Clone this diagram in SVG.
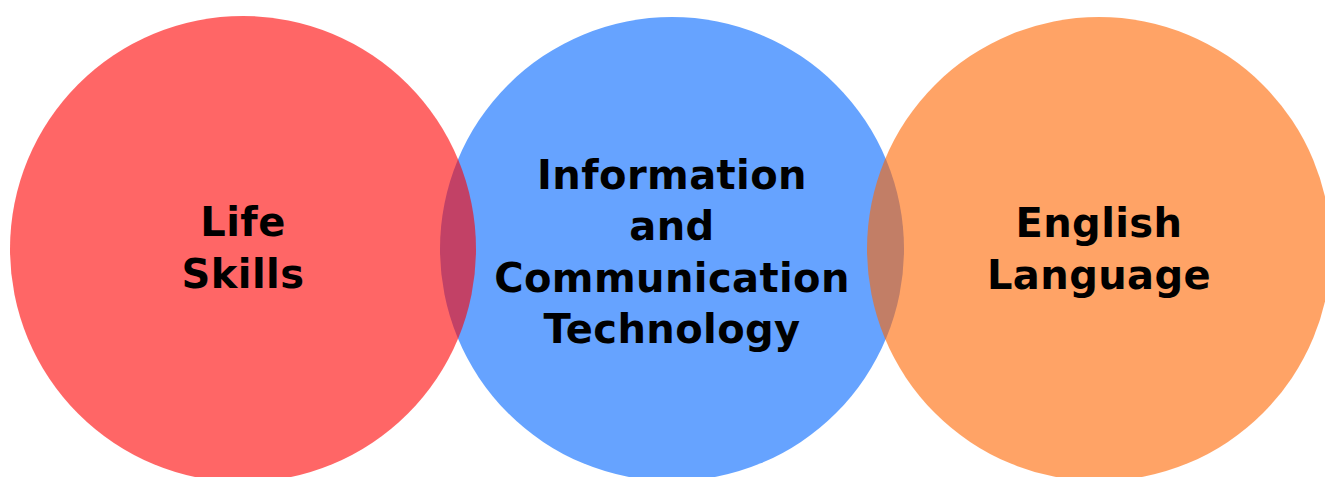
<svg xmlns="http://www.w3.org/2000/svg" width="1325" height="477" viewBox="0 0 1325 477">
<style>
.c{stroke:none}
.t{font-family:"DejaVu Sans","Liberation Sans",sans-serif;font-weight:bold;font-size:40px;letter-spacing:0.4px;fill:#000;text-anchor:middle}
</style>
<rect width="1325" height="477" fill="#ffffff"/>
<g id="ict">
<circle class="c" cx="672" cy="249" r="232" fill="#66A3FF"/>
</g>
<g id="life-skills">
<circle class="c" cx="243" cy="249" r="233" fill="#FF0000" fill-opacity="0.6"/>
</g>
<g id="english">
<circle class="c" cx="1099" cy="249" r="232" fill="#FF6600" fill-opacity="0.6"/>
</g>
<g id="labels">
<text class="t" x="243" y="236">Life</text>
<text class="t" x="243" y="288">Skills</text>
<text class="t" x="672" y="189">Information</text>
<text class="t" x="672" y="240">and</text>
<text class="t" x="672" y="292">Communication</text>
<text class="t" x="672" y="343">Technology</text>
<text class="t" x="1099" y="237">English</text>
<text class="t" x="1099" y="289">Language</text>
</g>
<g id="connectors"/>
</svg>
